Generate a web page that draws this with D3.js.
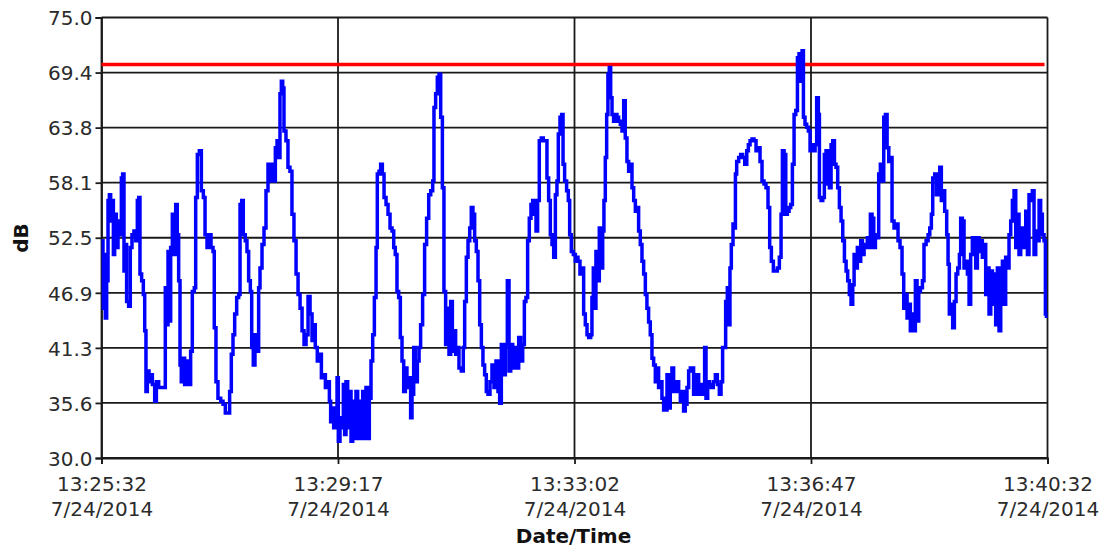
<!DOCTYPE html>
<html>
<head>
<meta charset="utf-8">
<script src="https://cdn.jsdelivr.net/npm/d3@7"></script>
<style>
  html, body { margin: 0; padding: 0; background: #fff; }
  svg { display: block; }
  text { font-family: "DejaVu Sans", Verdana, sans-serif; }
</style>
</head>
<body>
<svg id="chart" width="1105" height="550"></svg>
<script>
// ---------- data ----------
const startStamp = "2014-07-24 13:25:32";
const endStamp = "2014-07-24 13:40:32";
const xTickTimes = ["13:25:32", "13:29:17", "13:33:02", "13:36:47", "13:40:32"];
const xTickDate = "7/24/2014";
const yTicks = [30, 35.625, 41.25, 46.875, 52.5, 58.125, 63.75, 69.375, 75];
const thresholdDb = 70.2;
const xTitle = "Date/Time";
const yTitle = "dB";

// seconds after 13:25:32
const seconds = [
0,0.5,1.4,2.4,3.6,4.9,6.2,7.5,8.7,10.0,11.3,12.5,14.1,15.7,17.3,18.9,20.1,21.4,22.7,23.9,25.8,27.4,29.0,30.9,32.5,34.1,35.4,36.6,38.2,39.8,41.1,42.3,43.6,45.2,46.8,48.4,50.6,52.2,54.4,56.9,59.5,60.7,62.0,63.3,64.5,65.8,67.4,69.0,70.6,72.1,73.4,74.7,75.9,77.5,79.1,81.0,82.9,84.8,86.4,88.3,89.6,91.2,93.1,95.0,96.9,98.5,100.4,102.3,104.2,106.1,107.3,108.9,110.8,113.4,115.6,117.8,120.4,121.9,123.5,125.1,126.7,128.6,130.5,131.8,133.4,134.9,136.8,138.4,140.0,141.6,142.9,144.4,146.0,147.6,149.5,
150.8,152.7,154.6,156.5,158.4,160.3,162.2,164.1,165.4,167.0,168.6,169.8,171.1,172.4,173.6,175.5,177.4,179.3,181.2,183.1,185.1,187.0,188.9,190.8,192.7,194.6,196.5,198.4,200.3,202.2,203.4,205.3,207.2,209.2,211.1,213.0,214.9,216.8,218.0,219.3,220.9,222.5,224.1,225.3,226.9,228.5,230.1,231.3,232.6,234.2,235.8,237.4,239.0,240.5,242.1,243.7,245.3,246.9,248.5,250.1,251.6,253.2,254.8,256.4,258.0,259.6,261.2,262.4,264.0,265.6,267.2,268.8,270.7,272.6,274.5,276.4,278.0,279.5,281.1,282.7,284.3,285.9,287.5,289.1,290.6,292.2,294.1,295.4,297.0,298.6,300.5,
302.1,303.6,305.5,307.4,309.3,311.3,313.2,315.1,316.3,317.9,319.5,321.1,322.7,324.3,325.8,327.4,329.0,330.6,332.2,333.8,335.3,336.9,338.5,340.1,342.3,344.2,345.5,347.1,348.7,350.3,351.8,353.4,355.0,356.6,358.2,359.8,361.4,362.9,364.5,366.1,367.7,369.6,371.5,373.4,375.3,377.2,378.8,380.4,382.3,384.2,386.1,387.7,389.3,391.2,393.1,395.0,396.9,398.8,400.7,402.3,403.8,405.4,407.0,408.6,410.2,411.8,413.4,414.9,416.5,418.4,420.3,422.2,423.8,425.4,427.0,428.6,430.2,431.8,433.3,434.6,436.2,437.8,439.1,440.6,442.5,444.1,445.4,447.0,448.9,450.8,
451.4,453.3,455.2,457.1,458.7,460.3,461.9,463.5,465.4,466.6,467.9,469.2,470.4,472.0,473.6,475.2,476.8,478.0,479.3,480.6,481.8,483.1,484.4,485.7,487.2,488.8,490.4,492.0,493.6,495.2,496.8,498.3,499.9,501.5,503.1,504.7,506.3,507.9,509.4,511.0,512.6,514.2,515.8,517.4,518.9,520.5,522.1,523.7,525.3,526.9,528.5,530.0,531.6,533.2,534.8,536.4,538.0,539.6,541.1,542.7,544.3,545.9,547.5,549.1,550.7,552.2,553.8,555.4,557.0,558.6,560.2,561.8,563.3,564.9,566.5,568.1,569.7,571.3,572.9,573.8,575.1,576.7,578.2,580.1,582.0,584.0,585.9,587.8,589.4,590.9,592.5,593.8,595.4,596.6,597.9,599.2,600.8,
601.8,603.1,604.3,606.2,608.1,610.0,612.0,613.9,615.4,617.0,618.9,620.8,622.7,624.6,626.5,628.4,630.3,632.2,634.1,635.7,637.3,639.2,641.1,643.0,644.9,646.5,647.8,649.4,651.0,652.5,654.1,655.7,657.3,658.9,660.5,662.1,663.6,665.2,666.5,667.8,669.3,670.9,672.5,674.1,675.7,677.3,678.9,680.4,682.0,683.0,684.6,686.2,687.7,689.3,690.9,692.5,694.1,695.7,697.3,698.8,700.4,702.0,703.6,705.2,706.8,708.4,709.9,711.5,713.1,714.7,716.0,717.5,719.1,720.7,722.3,723.9,725.5,727.1,728.6,730.2,731.5,733.1,734.7,736.3,737.8,739.4,741.0,742.6,744.2,745.8,747.4,749.0,750.5,
752.1,754.0,755.9,757.8,759.7,761.6,763.2,764.8,766.4,768.0,769.5,771.1,772.7,774.3,775.9,777.5,779.1,781.0,782.5,784.5,786.4,788.0,789.5,790.8,792.7,794.3,795.9,797.5,799.0,800.6,802.2,804.1,805.4,806.6,808.2,809.8,811.4,813.0,814.6,816.2,817.4,819.0,820.6,822.2,823.8,825.4,826.9,828.5,830.1,831.7,833.3,834.9,836.5,838.0,839.6,841.2,842.8,844.4,846.0,847.6,849.1,850.7,852.3,853.9,855.5,857.1,858.7,860.2,861.8,863.4,865.0,866.6,868.2,869.8,871.4,872.9,874.5,876.1,877.7,879.3,880.9,882.4,884.0,885.6,887.2,888.8,890.4,892.0,893.5,895.1,896.7,898.0,899.0
];
const decibels = [
51.0,52.2,45.3,50.8,44.3,48.1,56.3,56.9,54.2,56.3,50.8,54.9,51.5,54.2,52.8,58.6,59.0,49.1,51.8,46.0,45.5,51.5,52.8,53.2,52.2,56.3,56.6,48.8,48.1,46.7,43.0,36.8,38.9,37.8,38.5,37.5,35.8,37.8,37.2,37.2,37.2,47.4,43.6,51.1,44.0,51.5,54.9,50.8,55.9,52.8,48.1,39.5,37.8,40.2,37.5,39.9,37.5,40.9,47.0,47.4,56.6,61.0,61.4,57.3,56.6,52.8,51.5,52.8,51.5,51.1,43.3,37.8,36.1,35.8,35.5,34.6,34.6,36.8,40.6,42.6,44.7,46.4,46.7,55.9,56.3,52.8,52.2,51.1,48.1,47.0,41.3,39.5,42.6,40.9,47.4,
49.4,51.8,53.5,57.3,60.0,58.3,60.0,58.3,61.7,62.4,60.7,67.2,68.5,67.8,63.4,62.4,59.7,59.3,54.9,52.2,48.8,46.7,45.3,43.0,41.6,42.6,46.5,44.7,42.0,43.6,41.3,39.9,40.6,38.2,38.5,37.2,37.8,35.8,33.7,35.1,33.1,34.4,38.2,31.7,34.1,33.1,37.5,32.4,37.8,33.1,36.8,31.7,35.8,32.0,36.8,32.0,35.8,32.0,36.8,32.0,37.2,32.0,36.1,39.9,42.6,46.4,51.5,59.0,59.3,60.0,59.0,56.6,55.9,54.9,53.5,53.2,51.5,50.8,47.0,46.4,42.3,39.9,36.8,39.2,37.2,38.2,34.1,36.5,41.3,37.8,39.9,
41.3,43.6,46.7,51.8,54.5,56.9,57.3,58.3,65.8,67.2,68.9,69.2,64.8,57.6,47.0,41.6,45.3,40.6,46.0,40.9,43.0,40.6,41.3,39.2,38.9,41.3,46.0,50.5,52.2,53.5,55.6,54.9,52.2,51.1,48.1,43.6,41.3,39.5,38.5,36.8,36.5,37.8,39.5,37.2,39.9,36.8,35.6,41.6,38.5,41.6,48.1,38.9,41.6,39.2,41.3,39.2,42.3,39.9,41.6,46.0,46.4,52.2,54.5,55.9,56.3,54.9,53.2,56.3,62.4,62.7,62.4,62.4,58.6,56.3,52.8,51.8,50.5,56.9,58.3,63.1,64.8,65.1,60.0,58.3,57.3,56.3,52.8,51.1,50.8,50.1,
50.5,50.1,48.8,49.4,44.7,43.6,42.6,42.3,42.6,46.4,49.4,45.3,51.1,48.1,53.5,49.4,53.2,56.3,60.7,65.1,69.2,69.9,66.8,65.1,64.4,65.1,64.8,64.4,64.1,63.4,66.5,62.7,60.3,59.3,60.0,57.6,56.3,55.2,55.6,53.2,51.8,50.1,48.8,46.7,45.3,43.9,42.6,40.2,39.5,37.8,39.2,37.2,37.8,36.1,34.9,34.9,38.5,35.1,38.5,39.2,36.8,37.5,37.8,36.8,35.8,36.8,34.8,35.5,37.2,38.9,39.2,39.2,36.5,38.2,38.5,36.5,37.5,36.5,36.8,41.3,36.1,37.8,37.5,37.2,37.8,38.5,37.5,36.5,37.8,41.3,41.3,46.0,47.4,43.6,49.4,51.8,53.9,
53.5,59.0,60.3,60.7,61.0,60.7,60.0,61.4,62.0,62.4,62.6,62.4,61.4,61.7,60.3,58.3,58.0,57.6,55.6,51.5,50.1,49.1,49.1,49.4,50.5,54.9,61.4,61.0,54.9,55.2,55.6,55.9,60.0,65.1,65.5,70.9,71.3,68.5,71.6,64.8,64.1,63.8,63.4,61.4,62.0,61.4,62.0,66.8,65.1,56.6,56.3,56.6,61.0,61.4,58.0,57.6,62.0,62.4,60.0,59.7,57.6,55.6,54.2,52.2,50.1,49.1,48.1,46.7,45.7,47.7,50.8,49.4,51.5,50.1,52.2,50.8,51.8,51.5,52.5,51.5,54.9,54.5,51.5,52.8,52.5,59.0,60.0,58.3,64.8,65.1,61.7,60.3,60.7,
54.2,53.5,53.9,52.2,51.5,48.8,45.3,46.7,44.3,45.7,43.0,44.7,43.0,48.1,44.0,47.0,47.4,48.1,51.8,52.2,52.8,53.5,54.9,58.6,59.0,56.9,58.0,59.7,56.3,57.3,55.2,52.8,49.8,44.7,45.7,43.3,46.0,48.8,49.4,50.8,54.5,54.2,49.4,50.1,48.8,45.7,50.8,52.5,51.5,49.4,52.5,51.1,52.2,50.5,51.8,46.7,49.4,44.7,49.1,45.7,48.8,43.6,49.4,43.0,48.8,50.1,45.7,50.5,49.4,52.8,54.2,56.3,57.3,51.5,54.9,50.8,53.5,51.5,53.5,55.2,50.8,56.9,56.3,57.3,50.8,53.2,52.2,56.3,54.9,52.8,52.2,44.7,44.3
];

// ---------- chart ----------
const plot = { left: 101.5, right: 1047.5, top: 17.5, bottom: 458 };
const parse = d3.timeParse("%Y-%m-%d %H:%M:%S");
const t0 = parse(startStamp), t1 = parse(endStamp);

const x = d3.scaleTime().domain([t0, t1]).range([plot.left, plot.right]);
const y = d3.scaleLinear().domain([30, 75]).range([plot.bottom, plot.top]);

const xTickValues = xTickTimes.map(s => parse("2014-07-24 " + s));
const data = seconds.map((s, i) => ({ t: new Date(t0.getTime() + s * 1000), v: decibels[i] }));

const svg = d3.select("#chart");
const gridColor = "#1a1a1a";
const gridWidth = 1.8;

// horizontal grid lines
svg.append("g").selectAll("line").data(yTicks).join("line")
  .attr("x1", plot.left).attr("x2", plot.right)
  .attr("y1", d => y(d)).attr("y2", d => y(d))
  .attr("stroke", gridColor).attr("stroke-width", gridWidth);

// vertical grid lines
svg.append("g").selectAll("line").data(xTickValues).join("line")
  .attr("x1", d => x(d)).attr("x2", d => x(d))
  .attr("y1", plot.top).attr("y2", plot.bottom)
  .attr("stroke", gridColor).attr("stroke-width", gridWidth);

// y axis
const yAxis = d3.axisLeft(y).tickValues(yTicks).tickSize(6).tickPadding(3)
  .tickFormat(d3.format(".1f"));
const gy = svg.append("g").attr("transform", `translate(${plot.left},0)`).call(yAxis);
gy.select(".domain").attr("stroke", gridColor).attr("stroke-width", gridWidth);
gy.selectAll(".tick line").attr("stroke", gridColor).attr("stroke-width", gridWidth);
gy.selectAll(".tick text").attr("font-size", 20).attr("fill", "#2b2b2b")
  .attr("font-family", "DejaVu Sans").attr("dy", "0.36em");

// x axis
const xAxis = d3.axisBottom(x).tickValues(xTickValues).tickSize(6).tickFormat("");
const gx = svg.append("g").attr("transform", `translate(0,${plot.bottom})`).call(xAxis);
gx.select(".domain").attr("stroke", gridColor).attr("stroke-width", gridWidth);
gx.selectAll(".tick line").attr("stroke", gridColor).attr("stroke-width", gridWidth);
gx.selectAll(".tick").each(function(d, i) {
  const t = d3.select(this).append("text")
    .attr("fill", "#2b2b2b").attr("font-size", 20).attr("font-family", "DejaVu Sans")
    .attr("text-anchor", "middle");
  t.append("tspan").attr("x", 0).attr("y", 33).text(xTickTimes[i]);
  t.append("tspan").attr("x", 0).attr("y", 58).text(xTickDate);
});

// axis titles
svg.append("text").attr("x", (plot.left + plot.right) / 2 - 1).attr("y", 543)
  .attr("text-anchor", "middle").attr("font-size", 20).attr("font-weight", "bold")
  .attr("fill", "#111").text(xTitle);
svg.append("text").attr("transform", "translate(28,238) rotate(-90)")
  .attr("text-anchor", "middle").attr("font-size", 20).attr("font-weight", "bold")
  .attr("fill", "#111").text(yTitle);

// threshold line
svg.append("line")
  .attr("x1", plot.left).attr("x2", plot.right - 3)
  .attr("y1", y(thresholdDb)).attr("y2", y(thresholdDb))
  .attr("stroke", "#ff0000").attr("stroke-width", 3.5);

// data line
svg.append("clipPath").attr("id", "clip").append("rect")
  .attr("x", plot.left).attr("y", plot.top - 2)
  .attr("width", plot.right - plot.left).attr("height", plot.bottom - plot.top + 2);

const line = d3.line().x(d => x(d.t)).y(d => y(d.v)).curve(d3.curveStepAfter);
svg.append("path").datum(data)
  .attr("clip-path", "url(#clip)")
  .attr("fill", "none").attr("stroke", "#0000ff").attr("stroke-width", 3.5)
  .attr("d", line);
</script>
</body>
</html>
